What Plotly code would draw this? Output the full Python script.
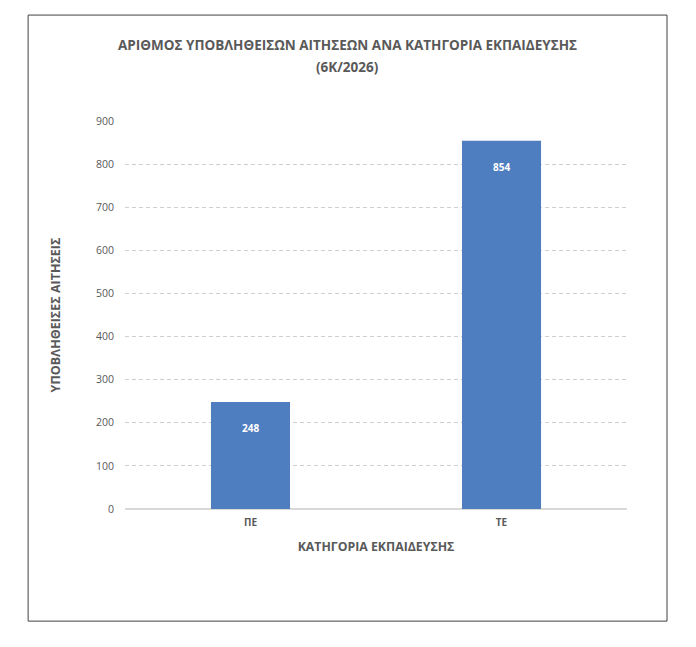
import plotly.graph_objects as go

# chart data
categories = ["ΠΕ", "ΤΕ"]
applications = [248, 854]
y_ticks = list(range(0, 901, 100))
title_lines = ["ΑΡΙΘΜΟΣ ΥΠΟΒΛΗΘΕΙΣΩΝ ΑΙΤΗΣΕΩΝ ΑΝΑ ΚΑΤΗΓΟΡΙΑ ΕΚΠΑΙΔΕΥΣΗΣ", "(6Κ/2026)"]

BAR_COLOR = "#4F7EC0"
TEXT_COLOR = "#595959"
FONT = "Open Sans"

fig = go.Figure()
fig.add_trace(go.Bar(x=categories, y=applications,
                     marker=dict(color=BAR_COLOR, line=dict(width=0)),
                     width=0.315, hoverinfo="x+y"))

# value labels placed a little below the top of each bar
for cat, val in zip(categories, applications):
    fig.add_annotation(x=cat, y=val, text="<b>%d</b>" % val, showarrow=False,
                       yanchor="middle", yshift=-26,
                       font=dict(family=FONT, size=10, color="white"))

# two-line title, centred on the frame
for line, ty in zip(title_lines, [1.196, 1.139]):
    fig.add_annotation(xref="paper", yref="paper", x=0.444, y=ty, text="<b>%s</b>" % line,
                       showarrow=False, xanchor="center", yanchor="middle",
                       font=dict(family=FONT, size=13.5, color=TEXT_COLOR))

# outer frame round the whole chart
fig.add_shape(type="rect", xref="paper", yref="paper",
              x0=-0.193, x1=1.0797, y0=-0.289, y1=1.273,
              line=dict(color="#404040", width=1))

fig.update_layout(
    width=696, height=647,
    paper_bgcolor="white", plot_bgcolor="white",
    margin=dict(l=117, r=77, t=113, b=146),
    showlegend=False,
    font=dict(family=FONT, color=TEXT_COLOR),
    bargap=0.685,
)

fig.update_xaxes(title=dict(text="<b>ΚΑΤΗΓΟΡΙΑ ΕΚΠΑΙΔΕΥΣΗΣ</b>", standoff=14,
                            font=dict(size=12.3, color=TEXT_COLOR)),
                 tickfont=dict(size=10, color=TEXT_COLOR),
                 tickvals=categories, ticktext=["<b>%s</b>" % c for c in categories],
                 ticklabelstandoff=6,
                 showline=False, ticks="", showgrid=False)
fig.update_yaxes(range=[0, 900], tickvals=y_ticks,
                 title=dict(text="<b>ΥΠΟΒΛΗΘΕΙΣΕΣ ΑΙΤΗΣΕΙΣ</b>", standoff=32,
                            font=dict(size=12.5, color=TEXT_COLOR)),
                 tickfont=dict(size=10.5, color=TEXT_COLOR),
                 showgrid=True, gridcolor="#CFCFCF", griddash="4px,3px", gridwidth=1,
                 zeroline=True, zerolinecolor="#D9D9D9", zerolinewidth=1.5,
                 ticks="", ticklabelstandoff=10)

fig.write_html("out.html")
